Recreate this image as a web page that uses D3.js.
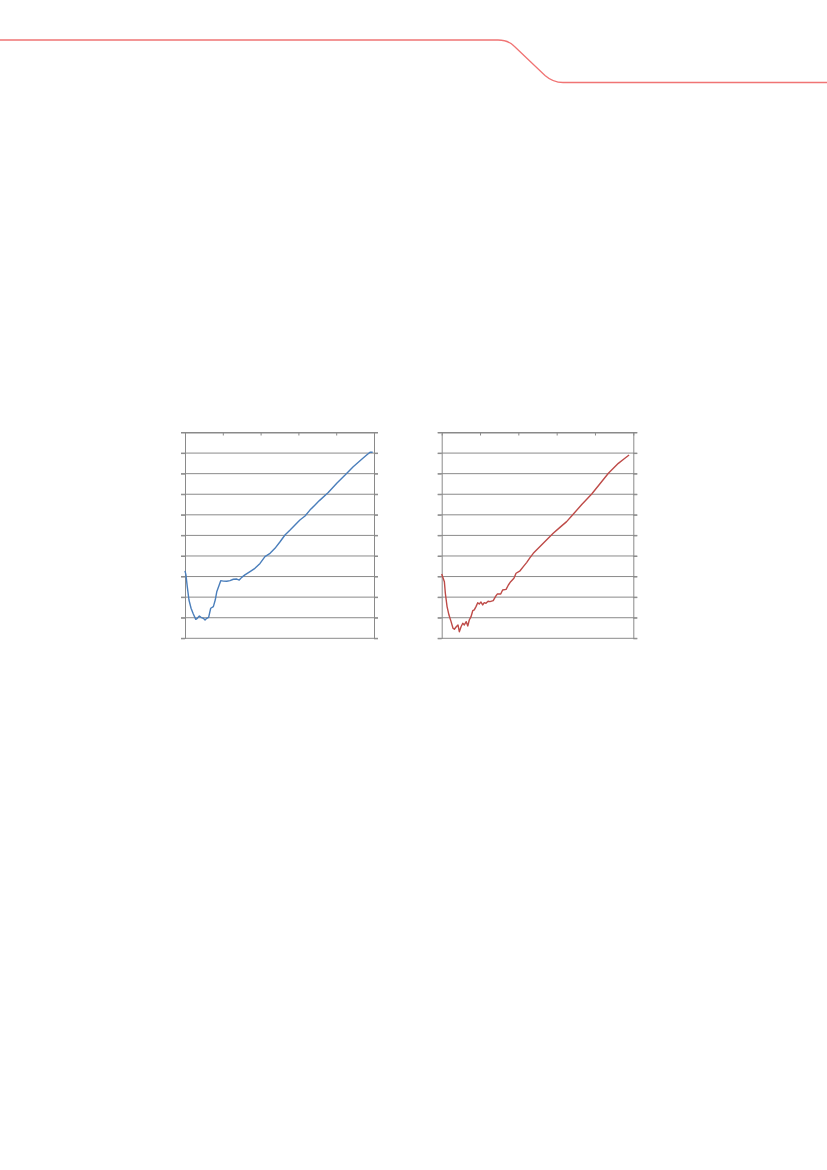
<!DOCTYPE html>
<html>
<head>
<meta charset="utf-8">
<script src="https://cdn.jsdelivr.net/npm/d3@7"></script>
<style>
  body { margin: 0; background: #fff; }
  svg { display: block; }
</style>
</head>
<body>
<svg id="page" width="827" height="1170"></svg>
<script>
// x positions (0..100 across the category axis) and values (0 at top, -100 at bottom)
const blueX = [0, 0.5, 1.2, 2.1, 3.2, 4.4, 5.7, 6.5, 7.6, 8.5, 9.7, 10.6, 11.5, 12.5, 13.6, 15.0, 16.0, 16.8, 18.1, 18.9,
  20.3, 22.1, 23.8, 25.6, 27.4, 28.7, 30.0, 31.7, 34.4, 37.0, 39.7, 42.3, 45.0, 47.6, 50.3, 52.9, 55.6, 58.2, 60.8, 63.5,
  66.1, 68.8, 71.1, 75.8, 80.3, 84.7, 89.0, 93.5, 95.8, 97.9, 99.3];
const blueY = [-67.2, -69.2, -74.9, -81.4, -85.4, -88.2, -90.8, -90.3, -89.2, -89.8, -90.3, -91.1, -90.3, -89.8, -85.4, -84.6, -81.4, -77.4, -74.1, -72.0,
  -72.2, -72.3, -72.0, -71.3, -71.2, -71.7, -70.4, -69.2, -67.6, -66.0, -63.6, -60.3, -58.7, -56.3, -53.1, -49.8, -47.4, -44.9, -42.5, -40.6,
  -37.7, -35.2, -33.1, -29.2, -24.7, -20.7, -16.6, -13.0, -11.2, -9.6, -9.6];

const redX = [0, 1.4, 1.9, 2.8, 3.8, 4.9, 5.9, 6.6, 7.6, 8.5, 9.2, 10.1, 11.0, 11.8, 12.8, 13.6, 14.4, 15.3, 16.2, 17.0,
  17.9, 18.8, 19.6, 20.5, 21.4, 22.2, 23.1, 24.2, 25.2, 26.9, 28.3, 29.0, 30.8, 31.8, 33.6, 34.8, 36.0, 37.7, 38.8, 40.9,
  42.6, 44.4, 46.1, 47.8, 50.4, 53.0, 55.6, 58.2, 61.7, 65.2, 67.8, 73.1, 78.3, 82.6, 87.0, 92.2, 95.1, 97.8];
const redY = [-68.8, -72.5, -78.1, -84.6, -88.7, -91.9, -95.1, -95.6, -94.4, -93.5, -96.8, -94.4, -92.7, -93.5, -91.9, -94.0, -91.1, -89.5, -86.6, -86.2,
  -84.6, -82.7, -83.3, -82.4, -83.8, -82.7, -83.0, -82.0, -82.2, -81.7, -79.4, -78.5, -78.5, -76.5, -76.2, -74.1, -72.5, -70.8, -68.4, -67.2,
  -65.2, -63.1, -60.8, -58.7, -56.3, -53.8, -51.4, -49.0, -46.1, -43.3, -40.6, -35.0, -29.9, -24.9, -19.8, -15.0, -12.9, -10.9];

const xTicks = [0, 20, 40, 60, 80, 100];
const yTicks = [0, -10, -20, -30, -40, -50, -60, -70, -80, -90, -100];

const svg = d3.select("#page");
const gridColor = "#8a8a8a";

// page header rule
svg.append("path")
  .attr("d", "M0,40 L498,40 Q508,40 514,46 L545,75.5 Q553,82.5 563,82.5 L827,82.5")
  .attr("fill", "none")
  .attr("stroke", "#f07474")
  .attr("stroke-width", 1.3);

function drawChart(left, right, xs, ys, color) {
  const top = 432.5, bottom = 638.3;
  const w = right - left, h = bottom - top;
  const x = d3.scaleLinear().domain([0, 100]).range([0, w]);
  const y = d3.scaleLinear().domain([0, -100]).range([0, h]);
  const g = svg.append("g").attr("transform", `translate(${left},${top})`);

  // gridlines, slightly overhanging both sides
  g.selectAll("line.grid").data(yTicks).join("line")
    .attr("class", "grid")
    .attr("x1", -4).attr("x2", w + 4)
    .attr("y1", d => y(d)).attr("y2", d => y(d))
    .attr("stroke", gridColor).attr("stroke-width", 1);

  const styleAxis = sel => {
    sel.selectAll("path, line").attr("stroke", gridColor).attr("stroke-width", 1);
    sel.selectAll("text").remove();
  };

  g.append("g").call(d3.axisLeft(y).tickValues(yTicks).tickSize(4).tickSizeOuter(0).tickFormat("")).call(styleAxis);
  g.append("g").attr("transform", `translate(${w},0)`)
    .call(d3.axisRight(y).tickValues(yTicks).tickSize(4).tickSizeOuter(0).tickFormat("")).call(styleAxis);
  g.append("g").call(d3.axisBottom(x).tickValues(xTicks).tickSize(3).tickSizeOuter(0).tickFormat("")).call(styleAxis);

  const pts = xs.map((v, i) => [v, ys[i]]);
  g.append("path")
    .datum(pts)
    .attr("fill", "none")
    .attr("stroke", color)
    .attr("stroke-width", 1.4)
    .attr("stroke-linejoin", "round")
    .attr("d", d3.line().x(d => x(d[0])).y(d => y(d[1])));
}

drawChart(185, 374, blueX, blueY, "#4a7ebb");
drawChart(441.7, 633.3, redX, redY, "#be4b48");
</script>
</body>
</html>
